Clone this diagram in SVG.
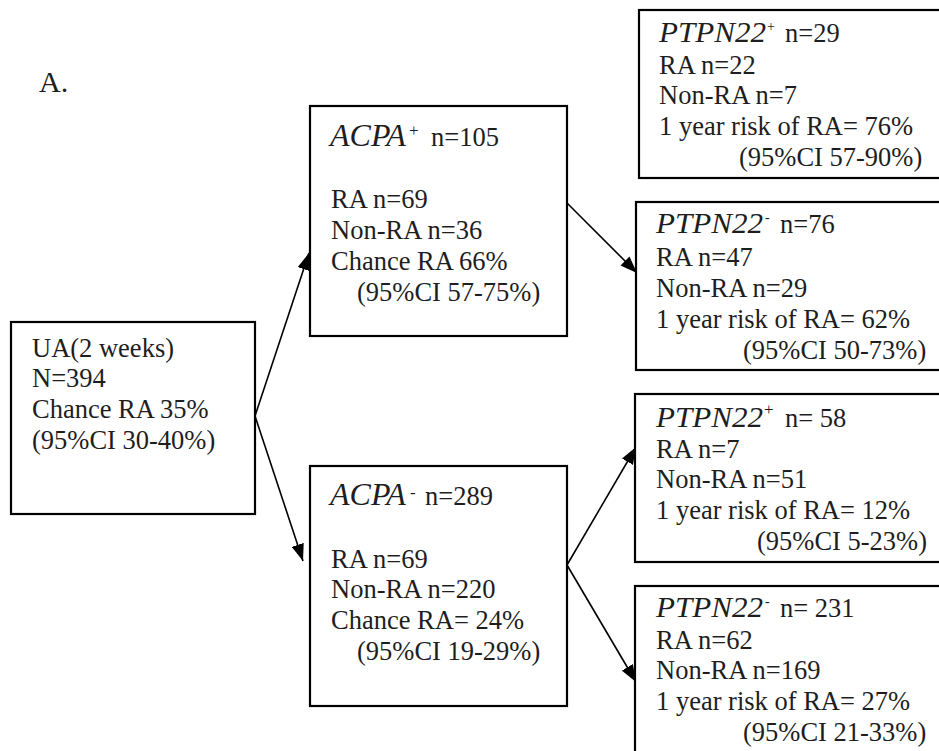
<svg xmlns="http://www.w3.org/2000/svg" width="939" height="751" viewBox="0 0 939 751">
<style>
  text { font-family: "Liberation Serif", "Times New Roman", serif; font-size: 26.5px; fill: #1e1e1e; }
  .it { font-style: italic; }
  .acpa { font-size: 32px; }
  .gene { font-size: 29px; }
  .sup { font-size: 17px; }
  .supS { font-size: 14px; }
  .box { fill: #ffffff; stroke: #000; stroke-width: 2.2; }
  .conn { stroke: #000; stroke-width: 1.6; fill: none; marker-end: url(#arrow); }
</style>
<defs>
  <marker id="arrow" viewBox="0 0 16 12" refX="16" refY="6" markerWidth="17" markerHeight="13" markerUnits="userSpaceOnUse" orient="auto">
    <path d="M0,0 L16,6 L0,12 z" fill="#000"/>
  </marker>
</defs>
<rect width="939" height="751" fill="#ffffff"/>

<text x="39" y="92" style="font-size:30px">A.</text>

<g id="connectors">
  <line class="conn" x1="255" y1="416" x2="309" y2="253"/>
  <line class="conn" x1="255" y1="416" x2="303" y2="561"/>
  <line class="conn" x1="567" y1="203" x2="637" y2="273"/>
  <line class="conn" x1="567" y1="565" x2="636" y2="447"/>
  <line class="conn" x1="567" y1="565" x2="636" y2="682"/>
</g>

<g id="ua">
  <rect class="box" x="11" y="322" width="244" height="192"/>
  <text x="32" y="357">UA(2 weeks)</text>
  <text x="32" y="387">N=394</text>
  <text x="32" y="418">Chance RA 35%</text>
  <text x="32" y="449">(95%CI 30-40%)</text>
</g>

<g id="acpa_pos">
  <rect class="box" x="310" y="106" width="257" height="230"/>
  <text class="it acpa" x="330" y="146">ACPA</text>
  <text class="sup" x="409" y="136">+</text>
  <text x="431" y="146">n=105</text>
  <text x="331" y="208">RA n=69</text>
  <text x="331" y="239">Non-RA n=36</text>
  <text x="331" y="270">Chance RA 66%</text>
  <text x="357" y="301">(95%CI 57-75%)</text>
</g>

<g id="acpa_neg">
  <rect class="box" x="310" y="466" width="257" height="240"/>
  <text class="it acpa" x="330" y="505">ACPA</text>
  <text class="sup" x="410" y="498">-</text>
  <text x="425" y="505">n=289</text>
  <text x="331" y="568">RA n=69</text>
  <text x="331" y="598">Non-RA n=220</text>
  <text x="331" y="629">Chance RA= 24%</text>
  <text x="357" y="660">(95%CI 19-29%)</text>
</g>

<g id="ptpn_pos_top">
  <rect class="box" x="639" y="10" width="320" height="168"/>
  <text class="it gene" x="659" y="42" textLength="107" lengthAdjust="spacingAndGlyphs">PTPN22</text>
  <text class="supS" x="767" y="31">+</text>
  <text x="785" y="42">n=29</text>
  <text x="659" y="74">RA n=22</text>
  <text x="659" y="104">Non-RA n=7</text>
  <text x="659" y="135">1 year risk of RA= 76%</text>
  <text x="739" y="166">(95%CI 57-90%)</text>
</g>

<g id="ptpn_neg_top">
  <rect class="box" x="636" y="202" width="320" height="168"/>
  <text class="it gene" x="656" y="233" textLength="107" lengthAdjust="spacingAndGlyphs">PTPN22</text>
  <text class="supS" x="765" y="222">-</text>
  <text x="780" y="233">n=76</text>
  <text x="656" y="266">RA n=47</text>
  <text x="656" y="297">Non-RA n=29</text>
  <text x="656" y="328">1 year risk of RA= 62%</text>
  <text x="743" y="359">(95%CI 50-73%)</text>
</g>

<g id="ptpn_pos_bottom">
  <rect class="box" x="635" y="394" width="320" height="168"/>
  <text class="it gene" x="656" y="427" textLength="107" lengthAdjust="spacingAndGlyphs">PTPN22</text>
  <text class="sup" x="764" y="415">+</text>
  <text x="785" y="427">n= 58</text>
  <text x="656" y="458">RA n=7</text>
  <text x="656" y="488">Non-RA n=51</text>
  <text x="656" y="519">1 year risk of RA= 12%</text>
  <text x="757" y="550">(95%CI 5-23%)</text>
</g>

<g id="ptpn_neg_bottom">
  <rect class="box" x="635" y="586" width="320" height="180"/>
  <text class="it gene" x="656" y="617" textLength="107" lengthAdjust="spacingAndGlyphs">PTPN22</text>
  <text class="supS" x="765" y="606">-</text>
  <text x="780" y="617">n= 231</text>
  <text x="656" y="649">RA n=62</text>
  <text x="656" y="679">Non-RA n=169</text>
  <text x="656" y="710">1 year risk of RA= 27%</text>
  <text x="743" y="741">(95%CI 21-33%)</text>
</g>
</svg>
